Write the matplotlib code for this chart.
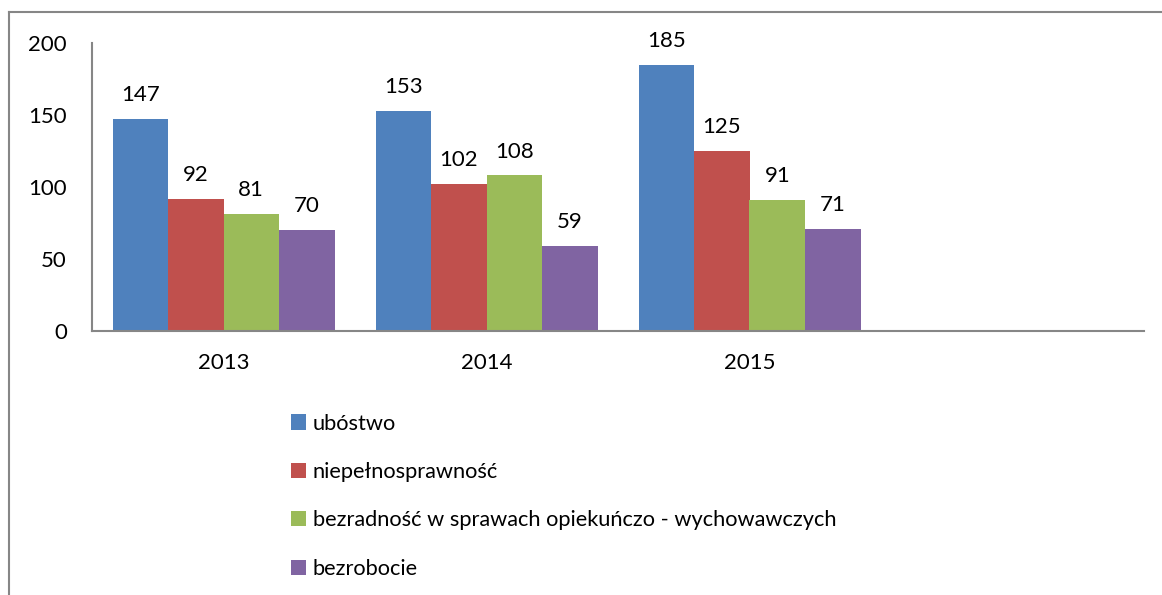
import matplotlib.pyplot as plt
import numpy as np
from matplotlib.lines import Line2D

plt.rcParams['font.family'] = ['Lato', 'DejaVu Sans']

years = ['2013', '2014', '2015']
series = ['ubóstwo', 'niepełnosprawność',
          'bezradność w sprawach opiekuńczo - wychowawczych', 'bezrobocie']
ubostwo = [147, 153, 185]
niepelnosprawnosc = [92, 102, 125]
bezradnosc = [81, 108, 91]
bezrobocie = [70, 59, 71]
colors = ['#4F81BD', '#C0504D', '#9BBB59', '#8064A2']

values = [ubostwo, niepelnosprawnosc, bezradnosc, bezrobocie]

fig = plt.figure(figsize=(11.62, 5.95), dpi=100)
ax = fig.add_axes([92 / 1162, 1 - 331 / 595, (1144 - 92) / 1162, (331 - 43) / 595])

x = np.arange(len(years))
w = 222 / 263 / 4
for i, (name, vals) in enumerate(zip(series, values)):
    bars = ax.bar(x + (i - 1.5) * w, vals, w, color=colors[i], label=name)
    ax.bar_label(bars, padding=10, fontsize=16)

# excel leaves an empty fourth category slot
ax.set_xlim(-0.5, 3.5)
ax.set_ylim(0, 200)
ax.set_yticks([0, 50, 100, 150, 200])
ax.set_xticks(x)
ax.set_xticklabels(years)
ax.tick_params(axis='both', length=0, labelsize=16)
ax.tick_params(axis='y', pad=18)
ax.tick_params(axis='x', pad=16)
for s in ['top', 'right']:
    ax.spines[s].set_visible(False)
for s in ['left', 'bottom']:
    ax.spines[s].set_color('#868686')
    ax.spines[s].set_linewidth(1.5)

fig.legend(loc='upper left', bbox_to_anchor=(282 / 1162, 1 - 405 / 595),
           frameon=False, fontsize=15.7, handlelength=0.7, handleheight=0.7,
           handletextpad=0.3, labelspacing=1.3, borderaxespad=0)

# outer chart frame
fig.add_artist(Line2D([9 / 1162, 9 / 1162], [0, 1 - 12 / 595], transform=fig.transFigure,
                      color='#868686', lw=1.5))
fig.add_artist(Line2D([9 / 1162, 1], [1 - 12 / 595, 1 - 12 / 595], transform=fig.transFigure,
                      color='#868686', lw=1.5))

fig.savefig('out.png', dpi=100)
